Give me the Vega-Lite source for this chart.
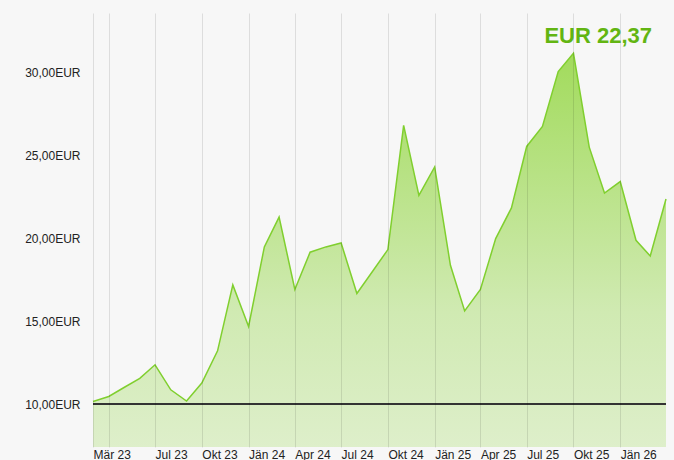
{
  "$schema": "https://vega.github.io/schema/vega-lite/v6.json",
  "autosize": {"type": "none"},
  "padding": {"left": 93, "top": 13, "right": 8, "bottom": 13},
  "width": 573,
  "height": 434,
  "background": "#f7f7f7",
  "config": {
    "view": {"stroke": null},
    "font": "Liberation Sans"
  },
  "title": {
    "text": "EUR 22,37",
    "anchor": "end",
    "frame": "group",
    "orient": "top",
    "offset": -35,
    "dx": -14,
    "fontSize": 22,
    "fontWeight": "bold",
    "color": "#62b512",
    "font": "Liberation Sans"
  },
  "data": {
    "values": [
      {"date": "2023-03-01", "price": 10.16},
      {"date": "2023-04-01", "price": 10.46},
      {"date": "2023-05-01", "price": 11.00},
      {"date": "2023-06-01", "price": 11.55},
      {"date": "2023-07-01", "price": 12.37},
      {"date": "2023-08-01", "price": 10.86},
      {"date": "2023-09-01", "price": 10.18},
      {"date": "2023-10-01", "price": 11.27},
      {"date": "2023-11-01", "price": 13.21},
      {"date": "2023-12-01", "price": 17.19},
      {"date": "2024-01-01", "price": 14.68},
      {"date": "2024-02-01", "price": 19.48},
      {"date": "2024-03-01", "price": 21.28},
      {"date": "2024-04-01", "price": 16.91},
      {"date": "2024-05-01", "price": 19.16},
      {"date": "2024-06-01", "price": 19.48},
      {"date": "2024-07-01", "price": 19.72},
      {"date": "2024-08-01", "price": 16.67},
      {"date": "2024-09-01", "price": 18.01},
      {"date": "2024-10-01", "price": 19.32},
      {"date": "2024-11-01", "price": 26.81},
      {"date": "2024-12-01", "price": 22.59},
      {"date": "2025-01-01", "price": 24.30},
      {"date": "2025-02-01", "price": 18.37},
      {"date": "2025-03-01", "price": 15.62},
      {"date": "2025-04-01", "price": 16.91},
      {"date": "2025-05-01", "price": 19.98},
      {"date": "2025-06-01", "price": 21.83},
      {"date": "2025-07-01", "price": 25.54},
      {"date": "2025-08-01", "price": 26.75},
      {"date": "2025-09-01", "price": 30.06},
      {"date": "2025-10-01", "price": 31.16},
      {"date": "2025-11-01", "price": 25.50},
      {"date": "2025-12-01", "price": 22.73},
      {"date": "2026-01-01", "price": 23.42},
      {"date": "2026-02-01", "price": 19.88},
      {"date": "2026-03-01", "price": 18.93},
      {"date": "2026-04-01", "price": 22.37}
    ]
  },
  "encoding": {
    "x": {
      "field": "date",
      "type": "temporal",
      "scale": {"type": "utc", "nice": false},
      "axis": {
        "title": null,
        "orient": "bottom",
        "zindex": 1,
        "values": [
          {"year": 2023, "month": 3, "date": 1, "utc": true},
          {"year": 2023, "month": 4, "date": 1, "utc": true},
          {"year": 2023, "month": 7, "date": 1, "utc": true},
          {"year": 2023, "month": 10, "date": 1, "utc": true},
          {"year": 2024, "month": 1, "date": 1, "utc": true},
          {"year": 2024, "month": 4, "date": 1, "utc": true},
          {"year": 2024, "month": 7, "date": 1, "utc": true},
          {"year": 2024, "month": 10, "date": 1, "utc": true},
          {"year": 2025, "month": 1, "date": 1, "utc": true},
          {"year": 2025, "month": 4, "date": 1, "utc": true},
          {"year": 2025, "month": 7, "date": 1, "utc": true},
          {"year": 2025, "month": 10, "date": 1, "utc": true},
          {"year": 2026, "month": 1, "date": 1, "utc": true}
        ],
        "labelExpr": "(utcmonth(datum.value) == 3 && utcyear(datum.value) == 2023) ? '' : ['Jän','Feb','Mär','Apr','Mai','Jun','Jul','Aug','Sep','Okt','Nov','Dez'][utcmonth(datum.value)] + ' ' + utcFormat(datum.value, '%y')",
        "labelAlign": "left",
        "labelBaseline": "alphabetic",
        "labelFlush": false,
        "labelOverlap": false,
        "labelPadding": 11,
        "labelFontSize": 12,
        "labelColor": "#222222",
        "labelFont": "Liberation Sans",
        "ticks": false,
        "domain": false,
        "grid": true,
        "gridColor": "#000000",
        "gridOpacity": 0.1,
        "gridWidth": 1
      }
    },
    "y": {
      "field": "price",
      "type": "quantitative",
      "scale": {"domain": [7.41, 33.59], "nice": false, "zero": false},
      "axis": {
        "title": null,
        "values": [10, 15, 20, 25, 30],
        "labelExpr": "replace(format(datum.value, '.2f'), '.', ',') + 'EUR'",
        "labelFontSize": 12,
        "labelColor": "#222222",
        "labelFont": "Liberation Sans",
        "labelPadding": 13,
        "ticks": false,
        "domain": false,
        "grid": false
      }
    }
  },
  "layer": [
    {
      "mark": {
        "type": "area",
        "clip": true,
        "color": {
          "gradient": "linear",
          "x1": 0, "y1": 0, "x2": 0, "y2": 1,
          "stops": [
            {"offset": 0, "color": "#a2db5c"},
            {"offset": 0.5, "color": "#d0eab2"},
            {"offset": 1, "color": "#eaf3e0"}
          ]
        },
        "line": false
      }
    },
    {
      "mark": {"type": "line", "color": "#80cf2f", "strokeWidth": 1.5}
    },
    {
      "mark": {"type": "rule", "color": "#333333", "strokeWidth": 2},
      "encoding": {"y": {"datum": 10}, "x": null}
    }
  ]
}
